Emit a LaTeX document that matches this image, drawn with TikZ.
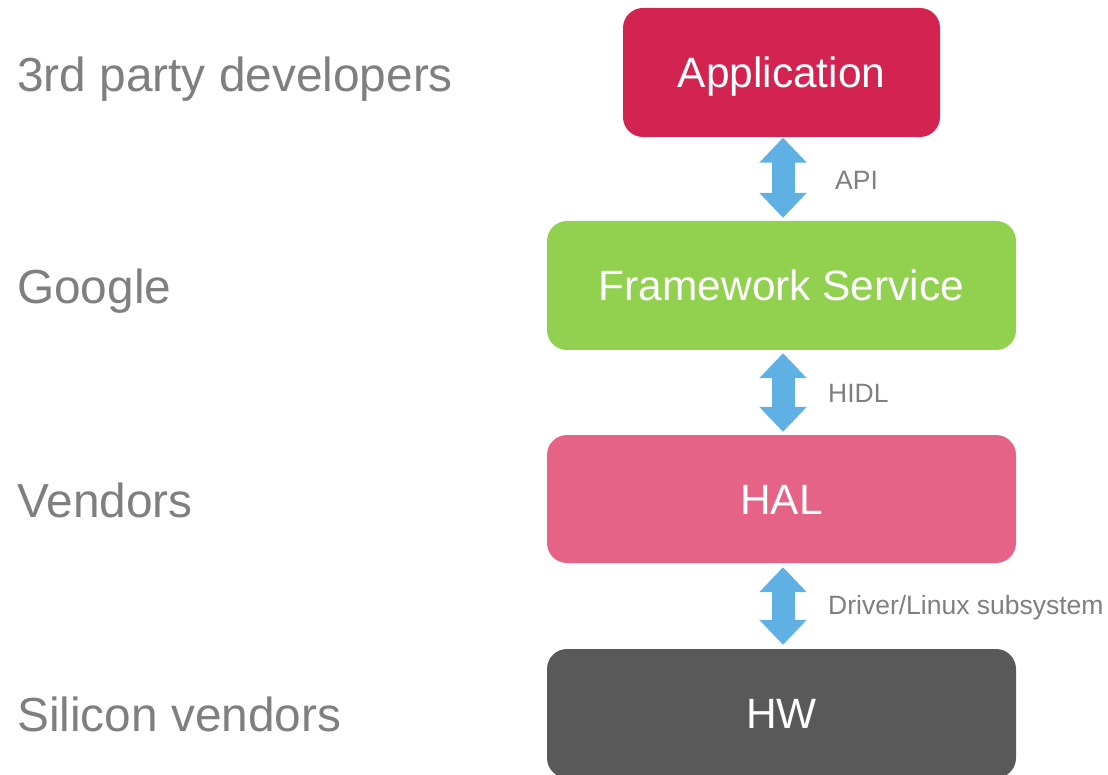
\documentclass[tikz,border=0pt]{standalone}
\usepackage{fontspec}
\setmainfont{Liberation Sans}
\usetikzlibrary{arrows.meta}

\definecolor{appred}{HTML}{D32350}
\definecolor{fwgreen}{HTML}{92D050}
\definecolor{halpink}{HTML}{E46386}
\definecolor{hwgray}{HTML}{595959}
\definecolor{linkblue}{HTML}{5FB1E4}
\definecolor{labelgray}{HTML}{7F7F7F}

\tikzset{
  layerbox/.style={rounded corners=20pt, draw=none, text=white, inner sep=0pt,
    font=\fontsize{42.4}{50}\selectfont, text height=30pt, text depth=0pt},
  rolelabel/.style={anchor=west, inner sep=0pt, text=labelgray,
    font=\fontsize{47.8}{56}\selectfont, text height=34pt, text depth=0pt},
  linklabel/.style={anchor=west, inner sep=0pt, text=labelgray,
    font=\fontsize{26.5}{31}\selectfont, text height=18.8pt, text depth=0pt},
  link/.style={draw=linkblue, line width=23pt,
    {Triangle[length=25pt,width=46pt]}-{Triangle[length=25pt,width=46pt]}}
}

\begin{document}
\begin{tikzpicture}[x=1pt, y=-1pt]
  \useasboundingbox (0,0) rectangle (1108,775);

  % software stack, top to bottom
  \node[layerbox, fill=appred,  minimum width=317pt, minimum height=129pt] (app) at (781.5,72.5) {Application};
  \node[layerbox, fill=fwgreen, minimum width=469pt, minimum height=129pt] (fw)  at (781.5,285.5) {Framework Service};
  \node[layerbox, fill=halpink, minimum width=469pt, minimum height=128pt] (hal) at (781.5,499) {HAL};
  \node[layerbox, fill=hwgray,  minimum width=469pt, minimum height=129pt] (hw)  at (781.5,713.5) {HW};

  % interfaces between the layers
  \draw[link, shorten <=0.5pt, shorten >=3pt] ([xshift=1.5pt]app.south) -- ([xshift=1.5pt]fw.north);
  \draw[link, shorten <=3pt, shorten >=3pt] ([xshift=1.5pt]fw.south) -- ([xshift=1.5pt]hal.north);
  \draw[link, shorten <=4pt, shorten >=4pt] ([xshift=1.5pt]hal.south) -- ([xshift=1.5pt]hw.north);

  \node[linklabel] (api)  at (835,180) {API};
  \node[linklabel] (hidl) at (828,393) {HIDL};
  \node[linklabel] (drv)  at (828,605) {Driver/Linux subsystem};

  % who owns each layer
  \node[rolelabel] (dev)    at (17,75)  {3rd party developers};
  \node[rolelabel] (google) at (17,287) {Google};
  \node[rolelabel] (vend)   at (17,500) {Vendors};
  \node[rolelabel] (sil)    at (17,714) {Silicon vendors};
\end{tikzpicture}
\end{document}
